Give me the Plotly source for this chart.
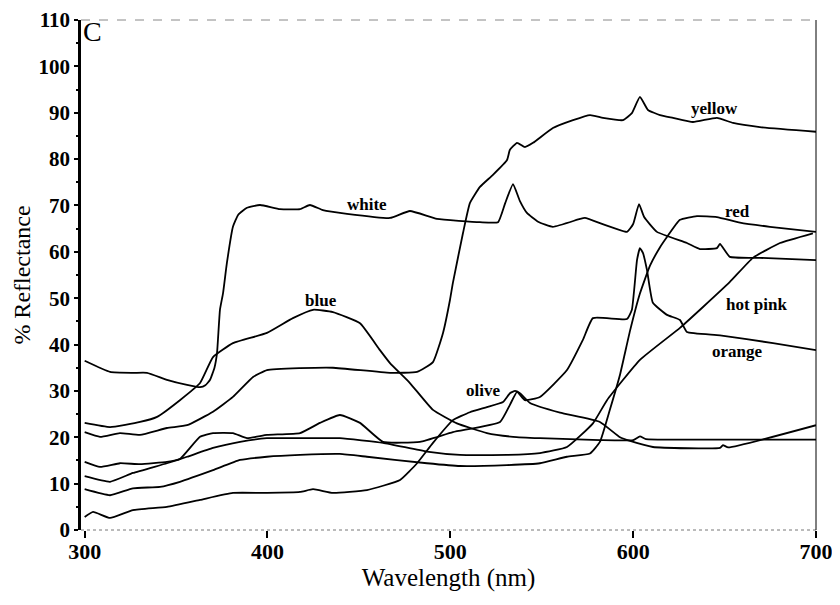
import plotly.graph_objects as go

# ---- data (wavelength nm, % reflectance) ----
white_wl = [300, 313.9, 326.4, 334.1, 345, 356, 363.1, 366, 368.6, 371, 372.4, 374, 375.7, 377.8, 381.1, 384, 388.8, 395.9, 406.8, 417.8, 423.2, 430.3, 443.5, 467, 477.9, 492.7, 516.2, 526.1, 530, 534.3, 538, 541.9, 548, 556.1, 570.9, 573.6, 596.6, 600, 603.2, 606, 613, 629.4, 636.5, 645.8, 647.5, 652.9, 669.3, 700]
white_r = [36.5, 34.1, 33.9, 33.9, 32.4, 31.3, 30.8, 31.2, 32.4, 35, 38.2, 47.5, 51.1, 57.6, 65.4, 68, 69.5, 70.1, 69.2, 69.2, 70.1, 69, 68.2, 67.3, 68.8, 67.1, 66.4, 66.4, 70.5, 74.6, 71, 68.4, 66.5, 65.4, 67.1, 67.3, 64.3, 66, 70.3, 67.5, 64.3, 61.9, 60.6, 60.8, 61.7, 58.9, 58.7, 58.2]

yellow_wl = [300, 308.4, 319.3, 330.3, 345, 356, 370.2, 381.1, 392.1, 399.7, 417.8, 435.8, 467, 481.8, 490.5, 496, 499.8, 501.4, 506.9, 510.7, 516.2, 523.3, 531, 532.6, 536.5, 540.8, 545.2, 556.1, 567.1, 576.4, 583.5, 594.4, 599.3, 603.7, 608.1, 614.7, 621.8, 632.7, 645.8, 654.6, 669.3, 700]
yellow_r = [21.1, 20.1, 20.9, 20.5, 22, 22.6, 25.5, 28.7, 33, 34.5, 34.9, 35, 33.9, 34.1, 36.2, 42.5, 49.6, 53.3, 64, 70.5, 74, 76.6, 79.8, 82, 83.5, 82.6, 83.5, 86.7, 88.4, 89.5, 88.9, 88.4, 89.9, 93.4, 90.6, 89.5, 88.9, 88, 88.9, 87.8, 86.9, 85.9]

blue_wl = [300, 313.9, 330.3, 339.6, 352.1, 363.1, 370.2, 381.1, 399.7, 413.9, 424.9, 435.8, 450.6, 461.5, 467, 477.9, 490.5, 503.6, 520, 534.3, 549, 581.8, 600, 603.7, 607, 630, 700]
blue_r = [23.1, 22.2, 23.3, 24.4, 28, 31.7, 37.3, 40.3, 42.5, 45.7, 47.5, 47, 44.6, 38.8, 36, 31.7, 25.9, 23, 20.9, 20.1, 19.8, 19.4, 19.4, 20.2, 19.6, 19.5, 19.5]

orange_wl = [300, 308.4, 319.3, 330.3, 345, 352.1, 363.1, 370.2, 381.1, 388.8, 399.7, 417.8, 428.7, 439.6, 450.6, 463.2, 483.4, 501.4, 527.2, 532.6, 536.5, 540.8, 549, 563.8, 572.5, 578, 596.6, 599.3, 602.1, 603.7, 605.4, 607.6, 610.8, 618.5, 625.6, 629.4, 647.5, 676.5, 700]
orange_r = [14.7, 13.6, 14.4, 14.2, 14.7, 15.3, 20.1, 20.9, 20.9, 19.8, 20.5, 20.9, 23.1, 24.8, 23.1, 19, 19, 21.1, 23.3, 27, 29.8, 28, 28.7, 34.5, 41, 45.7, 45.5, 47.5, 58.2, 60.8, 59.7, 56, 49, 46.4, 45.3, 42.7, 42, 40.3, 38.8]

hotpink_wl = [300, 313.9, 326.4, 345, 356, 370.2, 385, 399.7, 417.8, 439.6, 463.2, 487.2, 505.3, 531, 549, 563.8, 578, 585.7, 603.7, 625.6, 638.2, 652.9, 665.5, 680.3, 698.3]
hotpink_r = [11.6, 10.4, 12.3, 14.4, 15.8, 17.7, 19, 19.8, 19.8, 19.8, 18.8, 16.9, 16.2, 16.2, 16.6, 17.9, 23.0, 28, 36.7, 43.6, 48.1, 53.5, 58.7, 61.9, 64]

red_wl = [300, 313.9, 326.4, 341.2, 352.1, 370.2, 385, 399.7, 417.8, 439.6, 454.4, 487.2, 505.3, 531, 549, 563.8, 576.4, 581.8, 587.3, 592.8, 598.3, 603.7, 609.2, 614.7, 618.5, 625.6, 634.9, 645.8, 658.4, 674.8, 700]
red_r = [8.8, 7.5, 9, 9.3, 10.4, 12.9, 15.1, 15.8, 16.2, 16.4, 15.8, 14.4, 13.8, 14, 14.4, 15.8, 16.5, 19, 26, 33.5, 43, 51, 57, 61, 63.2, 66.9, 67.7, 67.5, 66.3, 65.4, 64.3]

olive_wl = [300, 304.6, 313.9, 326.4, 345, 363.1, 381.1, 399.7, 417.8, 424.9, 435.8, 454.4, 472.5, 481.8, 490.5, 501.4, 510.7, 520, 528.8, 532.6, 535.4, 538.1, 543.6, 560, 581.8, 592.8, 598.3, 610.8, 647.5, 649.1, 652, 700]
olive_r = [2.8, 3.9, 2.6, 4.3, 5, 6.5, 8, 8, 8.2, 8.8, 8, 8.6, 10.8, 14.4, 18.8, 23.7, 25.4, 26.5, 27.6, 29.5, 30, 29.5, 27.4, 25.3, 23.3, 20, 19.2, 17.9, 17.7, 18.3, 17.8, 22.6]

series = [
    ("white", white_wl, white_r),
    ("yellow", yellow_wl, yellow_r),
    ("blue", blue_wl, blue_r),
    ("orange", orange_wl, orange_r),
    ("hot pink", hotpink_wl, hotpink_r),
    ("red", red_wl, red_r),
    ("olive", olive_wl, olive_r),
]

# label anchor positions (data coords)
labels = [
    ("yellow", 644.7, 91.0),
    ("white", 454.4, 70.1),
    ("red", 656.8, 68.6),
    ("blue", 429.3, 49.6),
    ("hot pink", 667.7, 48.7),
    ("orange", 656.8, 38.6),
    ("olive", 517.9, 30.0),
]

x_ticks = [300, 400, 500, 600, 700]
y_ticks = list(range(0, 111, 10))

SERIF = "Liberation Serif, Times New Roman, serif"

fig = go.Figure()
for name, wl, r in series:
    fig.add_trace(go.Scatter(x=wl, y=r, mode="lines", name=name,
                             line=dict(color="black", width=1.8, shape="spline", smoothing=0.4),
                             showlegend=False))

for text, x, y in labels:
    fig.add_annotation(x=x, y=y, text=text, showarrow=False,
                       font=dict(family=SERIF, size=17, color="black", weight="bold"))

fig.add_annotation(x=0.0, y=1.012, xref="paper", yref="paper", text="C",
                   showarrow=False, xanchor="left", yanchor="top",
                   font=dict(family=SERIF, size=28, color="black"))

# frame
fig.add_shape(type="line", xref="paper", yref="paper", x0=0, x1=1, y0=1, y1=1,
              line=dict(color="#888888", width=1, dash="dash"))
fig.add_shape(type="line", xref="paper", yref="paper", x0=0, x1=1, y0=0, y1=0,
              line=dict(color="#777777", width=1, dash="dot"))
fig.add_shape(type="line", xref="paper", yref="paper", x0=1, x1=1, y0=0, y1=1,
              line=dict(color="black", width=1))

fig.update_layout(
    width=832, height=597,
    margin=dict(l=73, r=24, t=12, b=75, autoexpand=False),
    paper_bgcolor="white", plot_bgcolor="white",
    xaxis=dict(range=[298, 700], tickvals=x_ticks, ticks="outside", ticklen=7,
               tickwidth=1.5, tickcolor="black", showline=False, showgrid=False,
               zeroline=False, automargin=False, ticklabelstandoff=-5,
               tickfont=dict(family=SERIF, size=22, color="black", weight="bold"),
               title=dict(text="Wavelength (nm)", standoff=1,
                          font=dict(family=SERIF, size=25, color="black"))),
    yaxis=dict(range=[0, 110], tickvals=y_ticks, ticks="outside", ticklen=4,
               tickwidth=1.5, tickcolor="black", showline=True, linewidth=2.5,
               linecolor="black", showgrid=False, zeroline=False, automargin=False,
               minor=dict(dtick=5, ticks="outside", ticklen=2, tickcolor="black"),
               tickfont=dict(family=SERIF, size=21, color="black", weight="bold"),
               title=dict(text="% Reflectance", standoff=2,
                          font=dict(family=SERIF, size=24, color="black"))),
)

fig.write_html("out.html")
